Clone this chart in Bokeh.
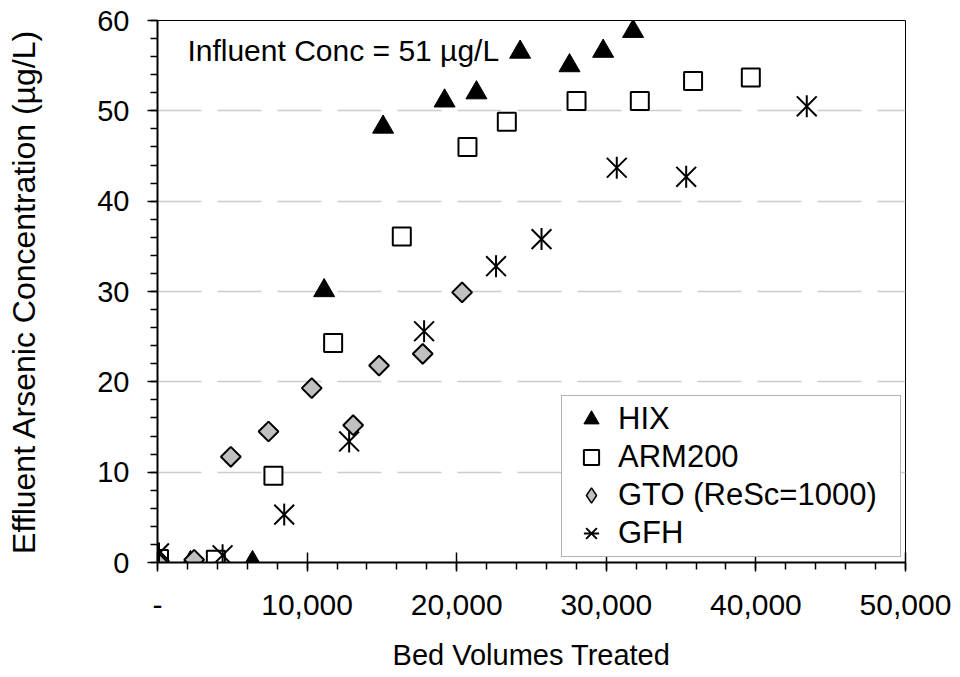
import numpy as np
from bokeh.plotting import figure
from bokeh.models import (SingleIntervalTicker, NumeralTickFormatter, Legend, LegendItem,
                          Label, ColumnDataSource, Range1d)
from bokeh.embed import file_html
from bokeh.resources import INLINE

# ---- data ----
hix_bv = [100, 2200, 6350, 11140, 15080, 19190, 21320, 24240, 27540, 29790, 31790]
hix_as = [0, 0, 0, 30.1, 48.2, 51.1, 52.0, 56.5, 55.0, 56.6, 58.8]

arm_bv = [100, 3900, 7750, 11740, 16330, 20720, 23350, 28010, 32240, 35800, 39660]
arm_as = [0.4, 0.3, 9.6, 24.3, 36.1, 46.0, 48.8, 51.1, 51.1, 53.3, 53.7]

gto_bv = [100, 2450, 4900, 7420, 10310, 13080, 14810, 17730, 20360]
gto_as = [0.2, 0.3, 11.7, 14.5, 19.3, 15.2, 21.8, 23.1, 29.9]

gfh_bv = [100, 4350, 8470, 12810, 17820, 22630, 25670, 30700, 35340, 43400]
gfh_as = [1.0, 0.8, 5.3, 13.4, 25.6, 32.8, 35.8, 43.7, 42.7, 50.5]

series_names = ["HIX", "ARM200", "GTO (ReSc=1000)", "GFH"]
x_title = "Bed Volumes Treated"
y_title = "Effluent Arsenic Concentration (µg/L)"
note_text = "Influent Conc = 51 µg/L"

FONT = "Liberation Sans"

p = figure(width=960, height=677,
           x_range=Range1d(0, 50000), y_range=Range1d(0, 60),
           output_backend="svg", toolbar_location=None,
           min_border_left=157, min_border_right=55,
           min_border_top=20, min_border_bottom=115,
           background_fill_color="white", border_fill_color="white")

p.outline_line_color = "black"
p.outline_line_width = 1

# axes
p.xaxis.ticker = SingleIntervalTicker(interval=10000, num_minor_ticks=5)
p.xaxis.formatter = NumeralTickFormatter(format="0,0")
p.xaxis.major_label_overrides = {0: "-"}
p.yaxis.ticker = SingleIntervalTicker(interval=10, num_minor_ticks=5)

for ax in (p.xaxis, p.yaxis):
    ax.axis_line_color = "black"
    ax.axis_line_width = 2
    ax.major_tick_line_color = "black"
    ax.major_tick_line_width = 1.5
    ax.minor_tick_line_color = "black"
    ax.minor_tick_line_width = 1.5
    ax.minor_tick_in = 0
    ax.minor_tick_out = 7
    ax.major_label_text_font = FONT
    ax.major_label_text_color = "black"
    ax.axis_label_text_font = FONT
    ax.axis_label_text_font_style = "normal"
    ax.axis_label_text_color = "black"

p.xaxis.major_tick_in = 10
p.xaxis.major_tick_out = 9
p.xaxis.major_label_text_font_size = "30px"
p.xaxis.major_label_standoff = 23
p.xaxis.axis_label = x_title
p.xaxis.axis_label_text_font_size = "29px"
p.xaxis.axis_label_standoff = 21

p.yaxis.major_tick_in = 0
p.yaxis.major_tick_out = 10
p.yaxis.major_label_text_font_size = "29px"
p.yaxis.major_label_standoff = 18
p.yaxis.axis_label = y_title
p.yaxis.axis_label_text_font_size = "32px"
p.yaxis.axis_label_standoff = 52

p.xgrid.visible = False
p.ygrid.grid_line_color = "#cccccc"
p.ygrid.grid_line_width = 1.5
p.ygrid.grid_line_dash = "44 16"

# series
r_hix = p.scatter(hix_bv, hix_as, marker="triangle", size=21,
                  fill_color="black", line_color="black", line_width=1)
r_arm = p.scatter(arm_bv, arm_as, marker="square", size=18,
                  fill_color="white", line_color="black", line_width=2)
r_gto = p.scatter(gto_bv, gto_as, marker="square", angle=np.pi / 4, size=14,
                  fill_color="#c0c0c0", line_color="black", line_width=2)
r_gfh_x = p.scatter(gfh_bv, gfh_as, marker="x", size=28,
                    line_color="black", line_width=2)
r_gfh_v = p.scatter(gfh_bv, gfh_as, marker="dash", angle=np.pi / 2, size=22,
                    line_color="black", line_width=2)

# legend-only diamond (legend glyphs are drawn unrotated)
dummy = ColumnDataSource(dict(x=[float("nan")], y=[float("nan")]))
r_gto_leg = p.scatter("x", "y", source=dummy, marker="diamond", size=12,
                      fill_color="#c0c0c0", line_color="black", line_width=1.5)

legend = Legend(items=[
    LegendItem(label=series_names[0], renderers=[r_hix]),
    LegendItem(label=series_names[1], renderers=[r_arm]),
    LegendItem(label=series_names[2], renderers=[r_gto_leg]),
    LegendItem(label=series_names[3], renderers=[r_gfh_x, r_gfh_v]),
], location=(404, 5))
legend.margin = 0
legend.padding = 4
legend.spacing = 0
legend.glyph_width = 50
legend.glyph_height = 38
legend.label_standoff = 2
legend.label_width = 278
legend.label_text_font = FONT
legend.label_text_font_size = "31px"
legend.label_text_color = "black"
legend.border_line_color = "#666666"
legend.border_line_width = 1
legend.background_fill_color = "white"
legend.background_fill_alpha = 1
p.add_layout(legend)

note = Label(x=2000, y=56.7, text=note_text, text_font=FONT,
             text_font_size="30px", text_baseline="middle", text_color="black")
p.add_layout(note)

open("out.html", "w").write(file_html(p, INLINE))
